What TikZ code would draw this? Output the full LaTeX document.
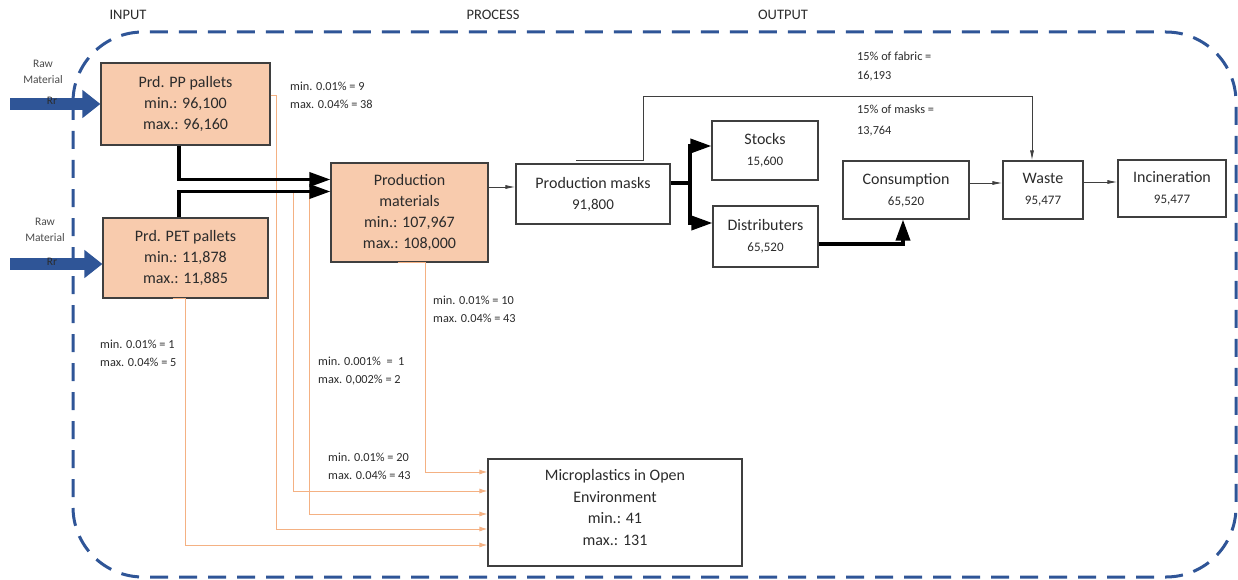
\documentclass[tikz,border=0pt]{standalone}
\usepackage{fontspec}
\setmainfont{Carlito}
\usetikzlibrary{arrows.meta,calc}

\definecolor{frameblue}{HTML}{2F5597}
\definecolor{peach}{HTML}{F8CBAD}
\definecolor{leak}{HTML}{F4B183}
\definecolor{edge}{HTML}{3F3F3F}
\definecolor{ink}{HTML}{2B2B2B}

\begin{document}
\begin{tikzpicture}[x=1pt,y=-1pt,
  box/.style={draw=edge,line width=1.1pt,align=center,inner sep=0pt,text=ink,
    font=\fontsize{16}{21}\selectfont},
  stockbox/.style={box,fill=peach},
  boxtext/.style={inner sep=0pt,align=center,text=ink,font=\fontsize{16}{21.5}\selectfont},
  lbl/.style={anchor=west,align=left,inner sep=0pt,text=ink,
    font=\fontsize{12.3}{18}\selectfont},
  head/.style={inner sep=0pt,text=ink,font=\fontsize{14.5}{17}\selectfont},
  rawlbl/.style={inner sep=0pt,align=center,text=ink!85,font=\fontsize{11.5}{16}\selectfont},
  flow/.style={draw=black,line width=3.5pt,-{Triangle[length=21pt,width=14pt]}},
  thinflow/.style={draw=edge,line width=0.9pt,-{Latex[length=10pt,width=4pt]}},
  leakflow/.style={draw=leak,line width=1pt,-{Latex[length=8pt,width=5pt]}},
  rawflow/.style={draw=frameblue,line width=12pt,-{Triangle[length=18pt,width=27pt]}}
]
\useasboundingbox (0,0) rectangle (1238,580);

% system boundary
\draw[frameblue,line width=3pt,dash pattern=on 18pt off 11pt,rounded corners=70pt]
  (73,32) rectangle (1236,577);

% stage headings
\node[head] (hIn)   at (128,15) {INPUT};
\node[head] (hProc) at (493,15) {PROCESS};
\node[head] (hOut)  at (783,15) {OUTPUT};

% stocks and processes
\node[stockbox,minimum width=169pt,minimum height=82pt] (pp) at (185.5,104)
  {Prd. PP pallets\\min.: 96,100\\max.: 96,160};
\node[stockbox,minimum width=165pt,minimum height=80pt] (pet) at (185.5,258)
  {Prd. PET pallets\\min.: 11,878\\max.: 11,885};
\node[stockbox,minimum width=157pt,minimum height=99pt] (pm) at (409.5,212.5)
  {Production\\materials\\min.: 107,967\\max.: 108,000};
\node[box,minimum width=154pt,minimum height=60pt] (masks) at (593,194)
  {Production masks\\{\fontsize{15}{21}\selectfont 91,800}};
\node[box,minimum width=106pt,minimum height=59pt] (stocks) at (765,150.5)
  {Stocks\\{\fontsize{13}{21}\selectfont 15,600}};
\node[box,minimum width=105pt,minimum height=61pt] (dist) at (765.5,236.5)
  {Distributers\\{\fontsize{13}{21}\selectfont 65,520}};
\node[box,minimum width=126pt,minimum height=58pt] (cons) at (906,190)
  {Consumption\\{\fontsize{13}{21}\selectfont 65,520}};
\node[box,minimum width=80pt,minimum height=58pt] (waste) at (1043,190)
  {Waste\\{\fontsize{13}{21}\selectfont 95,477}};
\node[box,minimum width=108pt,minimum height=57pt] (incin) at (1172,188.5)
  {Incineration\\{\fontsize{13}{21}\selectfont 95,477}};
\node[box,minimum width=254pt,minimum height=107pt] (micro) at (615,512.5) {};
\node[boxtext] (microTxt) at ([yshift=5pt]micro.center)
  {Microplastics in Open\\Environment\\min.: 41\\max.: 131};

% raw material inflows
\coordinate (rawA) at (10,104);
\coordinate (rawB) at (10,264);
\draw[rawflow] (rawA) -- (pp.west);
\draw[rawflow] (rawB) -- (rawB -| pet.west);
\node[rawlbl] (rawLblA) at (43,72) {Raw\\Material};
\node[rawlbl] (rawLblB) at (45,230) {Raw\\Material};
\node[rawlbl,text=ink] (rrA) at (52,101) {Rr};
\node[rawlbl,text=ink] (rrB) at (52,262) {Rr};

% microplastic losses
\coordinate (tapA) at (293,191.5);
\coordinate (tapB) at (309,191.5);
\draw[leakflow] ([xshift=-11.5pt]pm.south) -- ([xshift=16pt]pm.south)
  |- ([yshift=40.5pt]micro.west);
\draw[leakflow] (tapA) |- ([yshift=21.5pt]micro.west);
\draw[leakflow] (tapB) |- ([yshift=-1.5pt]micro.west);
\draw[leakflow] ([yshift=8pt]pp.east) -- ++(6,0) |- ([yshift=-16.5pt]micro.west);
\draw[leakflow] ([xshift=-13pt]pet.south) -- (pet.south) |- ([yshift=-32.5pt]micro.west);

% main material flows
\draw[flow] ([xshift=-6.5pt]pp.south) |- ([yshift=33pt]pm.west);
\draw[flow] ([xshift=-6.5pt]pet.north) |- ([yshift=21pt]pm.west);
\coordinate (pmOut) at ([yshift=25.5pt]pm.east);
\draw[thinflow] (pmOut) -- (pmOut -| masks.west);

\coordinate (split) at (690,183);
\draw[line width=3.5pt] ([yshift=11pt]masks.east) -- (split);
\draw[flow] (split) |- ([yshift=4.5pt]stocks.west);
\draw[flow] (split) |- ([yshift=13.5pt]dist.west);
\draw[flow] ([yshift=-7.5pt]dist.east) -| ([xshift=-3pt]cons.south);

\draw[thinflow] ([yshift=7pt]cons.east) -- ([yshift=7pt]cons.east -| waste.west);
\draw[thinflow] ([yshift=8pt]waste.east) -- ([yshift=8pt]waste.east -| incin.west);

% fabric and mask scrap to waste
\coordinate (fabricKnee) at (643,96);
\draw[thinflow] ([xshift=-17pt,yshift=3pt]masks.north) -| (fabricKnee)
  -| ([xshift=-11pt]waste.north);

% flow annotations
\node[lbl] (lPP)  at (290,95.5)  {min. 0.01\% = 9\\max. 0.04\% = 38};
\node[lbl] (lPM)  at (433,309.5) {min. 0.01\% = 10\\max. 0.04\% = 43};
\node[lbl] (lPET) at (100,353.5) {min. 0.01\% = 1\\max. 0.04\% = 5};
\node[lbl] (lMix) at (318,371)   {min. 0.001\%\ \ =\ \ 1\\max. 0,002\% = 2};
\node[lbl] (lLow) at (328,466)   {min. 0.01\% = 20\\max. 0.04\% = 43};
\node[lbl,font=\fontsize{12.3}{19.5}\selectfont] (lFab)  at (857,66.5)  {15\% of fabric =\\16,193};
\node[lbl,font=\fontsize{12.3}{20.5}\selectfont] (lMask) at (857,120.5) {15\% of masks =\\13,764};
\end{tikzpicture}
\end{document}
